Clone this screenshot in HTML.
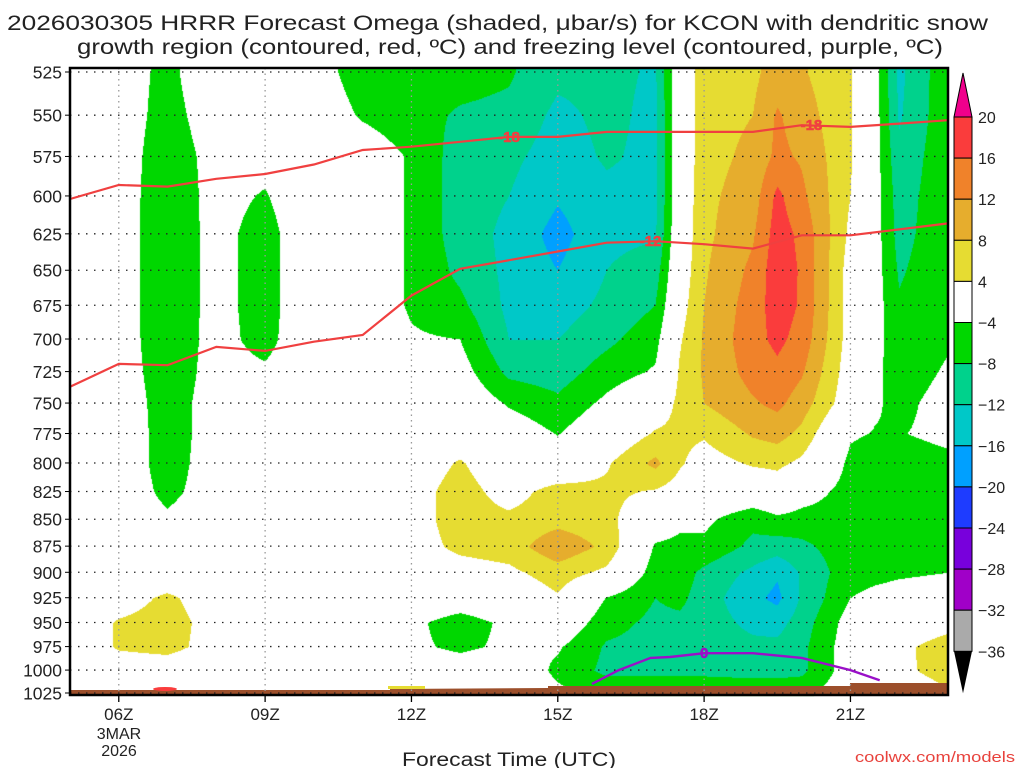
<!DOCTYPE html>
<html><head><meta charset="utf-8"><style>
html,body{margin:0;padding:0;background:#fff;width:1024px;height:768px;overflow:hidden}
#wrap{position:relative;width:1024px;height:768px}
canvas,svg{position:absolute;left:0;top:0}
text{font-family:"Liberation Sans",sans-serif}
</style></head><body>
<div id="wrap">
<canvas id="cv" width="1024" height="768"></canvas>
<svg id="sv" width="1024" height="768"></svg>
</div>
<script>
// ---- data ----
const times = [5,6,7,8,9,10,11,12,13,14,15,16,17,17.5,18,19,19.5,20,21,21.5,22,23];
const levels = [525,550,575,600,625,650,675,700,725,750,775,800,825,850,875,900,925,950,975,1000,1025];
const c05 = [0,0,0,0,0,0,0,0,0,0,0,0,0,0,0,0,0,0,0,0,0];
const c06 = [-1.2,-1.2,-1.2,-1.1,-1.1,-1.1,-1.1,-1.1,-1,-0.5,0,0,0,0,0,0,1.5,4.5,4.5,1,0];
const c07 = [-5.5,-6,-7,-7.6,-7.9,-7.9,-7.9,-7.6,-7,-6.5,-6.5,-6.5,-5.5,-3,-1,0,5,6,5.5,1,0];
const c08 = [0.5,-1,-2,-2,-2,-2,-2,-2,-2,-1.5,-1.5,-1,-1,0,0,0,1,2,2,0,0];
const c09 = [0,0,-2,-4.5,-6.5,-6.5,-6.5,-6,-3,0,0,0,0,0,0,0,0,0,0,0,0];
const c10 = [-2,-1,0.5,1.5,1.5,1.5,1.5,1.5,0.5,0,0,0,0,0,0,0,0,0,0,0,0];
const c11 = [-6,-4.5,-1,-1,-1,-1,-1,-1,0,0,0,0,0.5,0.5,0.5,0,0,0,0,0,0];
const c12 = [-7,-6.5,-4.5,-4.5,-4.5,-4.5,-4.5,-3.5,-2,0,0,1,2,2,2,1,0,-3,-3,0,0];
const c13 = [-6.5,-8.5,-10,-10,-10,-9,-7,-4,-2,0,1,4.5,6,6,5,2,-1,-6,-5,-1,0];
const c14 = [-7.5,-9,-11,-12,-13,-13,-13,-12,-9,-4.5,-1,0,2,5,6,3,0,-3,-3,0,0];
const c15 = [-11,-13,-14,-15.5,-17.5,-16,-14,-12,-10,-7,-4.2,-1,6,6.5,11,6,3.5,0,-3.5,-5,-3];
const c16 = [-11,-11,-11.5,-13,-13,-12,-11,-9,-6,-3,0,3.5,5,5.5,7,3,-4.2,-6.5,-8.5,-9,-5];
const c17 = [-12.5,-13,-13,-13,-12.5,-10,-8,-5.5,-3.5,1,4.5,9,3.5,-1,-4.5,-6,-8,-9,-9.5,-9,-5];
const c175 = [0,0,0,0,0.5,1,2,3.5,4.5,5,5,4.5,2,-3,-5,-6,-7,-9,-10,-9,-5];
const c18 = [6.5,6.5,6.5,7,7,7.5,8,8.5,8.5,8,4.5,2,0.5,-3,-5,-9,-10,-10,-10,-9,-5];
const c19 = [7,8,9,10,11.5,13,14,14.5,13.5,11.5,8.5,4.5,0,-7,-9,-13,-15,-13,-11,-9.5,-5];
const c195 = [10,12.5,13,17,18,18.5,18,17,15,13,9.5,5,1,-5,-10,-15.5,-17,-13.5,-11,-9.5,-5];
const c20 = [8.5,10,11.5,13,15,15.5,15.5,14.5,12.5,10,7,3,-2,-5.5,-9,-11.5,-11.5,-10,-9,-9,-5];
const c21 = [4.5,4.5,4.5,4,3,2,2,2,1.5,1,-3.5,-5,-5.5,-5.5,-5.5,-5.5,-4,-2,-1.5,-1.5,-1];
const c215 = [-2,-2,-2,-2,-2,-2,-2,-2.5,-3,-3.5,-4.2,-6,-6.5,-7,-6.5,-5,-3,-1,0,0,0];
const c22 = [-13,-12.5,-11,-10,-9.5,-8.5,-7.5,-6.5,-6,-5,-4.2,-6,-7,-7,-6,-4.5,-2.5,-1,2.5,2.5,0];
const c23 = [-5,-5,-5,-5,-5,-5,-5,-4.5,-3.5,-2.5,-3,-5,-5.5,-5,-4.5,-4,-2,1.5,7,6.5,3];
const columns = [c05,c06,c07,c08,c09,c10,c11,c12,c13,c14,c15,c16,c17,c175,c18,c19,c195,c20,c21,c215,c22,c23];

const isoHours = [5,6,7,8,9,10,11,12,13,14,15,16,17,18,19,20,21,22,23];
const iso18 = [602,593,594,589,586,580,571,569,566,563,563,560,560,560,560,556,557,555,553];
const iso12 = [737,719,720,706,709,702,697,668,649,643,637,631,630,632,635,626,626,622,618];
const frzHours = [15.7,16.25,16.9,17.3,18,19,20,21,21.6];
const frzP = [1015,1000,987,986,982,982,987,1000,1011];

const cbLabels = ["20","16","12","8","4","-4","-8","-12","-16","-20","-24","-28","-32","-36"];
const xTickHours = [6,9,12,15,18,21];
const xTickLabels = ["06Z","09Z","12Z","15Z","18Z","21Z"];

// ---- axes ----
const X0=70, X1=948, T0=5, T1=23;
const YT=72, YB=693, PT=525, PB=1025;
const LR = Math.log(PB/PT);
function xOf(t){return X0+(t-T0)/(T1-T0)*(X1-X0);}
function yOf(p){return YB-Math.log(PB/p)/LR*(YB-YT);}
function tOf(x){return T0+(x-X0)/(X1-X0)*(T1-T0);}
function pOf(y){return PB*Math.exp(-(YB-y)/(YB-YT)*LR);}

const bins=[[20,"#f0008c"],[16,"#fa3c3c"],[12,"#f0822a"],[8,"#e6ad2d"],[4,"#e6dc32"],[-4,"#ffffff"],[-8,"#00d700"],[-12,"#00d28c"],[-16,"#00c8c8"],[-20,"#00a0ff"],[-24,"#1e3cff"],[-28,"#7800dc"],[-32,"#a000c8"],[-36,"#aaaaaa"]];
function hex(c){return [parseInt(c.substr(1,2),16),parseInt(c.substr(3,2),16),parseInt(c.substr(5,2),16)];}
const binRGB=bins.map(b=>hex(b[1]));
function colorFor(v){for(let i=0;i<bins.length;i++){if(v>=bins[i][0])return binRGB[i];}return [0,0,0];}

// ---- shading ----
const cv=document.getElementById('cv');const ctx=cv.getContext('2d');
const img=ctx.createImageData(X1-X0, 696-68);
for(let py=68;py<696;py++){
  let p=pOf(py); if(p<PT)p=PT; if(p>PB)p=PB;
  let j=0; while(j<levels.length-2 && p>levels[j+1]) j++;
  const fy=(p-levels[j])/(levels[j+1]-levels[j]);
  for(let px=X0;px<X1;px++){
    let t=tOf(px+0.5); if(t<T0)t=T0; if(t>T1)t=T1;
    let i=0; while(i<times.length-2 && t>times[i+1]) i++;
    const fx=(t-times[i])/(times[i+1]-times[i]);
    const a=columns[i][j], b=columns[i+1][j], c=columns[i][j+1], d=columns[i+1][j+1];
    const v=(a*(1-fx)+b*fx)*(1-fy)+(c*(1-fx)+d*fx)*fy;
    const rgb=colorFor(v);
    const k=((py-68)*(X1-X0)+(px-X0))*4;
    img.data[k]=rgb[0];img.data[k+1]=rgb[1];img.data[k+2]=rgb[2];img.data[k+3]=255;
  }
}
ctx.putImageData(img,X0,68);

// ---- overlay ----
const NS="http://www.w3.org/2000/svg";
const sv=document.getElementById('sv');
function el(tag,attrs,parent){const e=document.createElementNS(NS,tag);for(const k in attrs)e.setAttribute(k,attrs[k]);(parent||sv).appendChild(e);return e;}
function txt(s,attrs){const e=el('text',attrs);e.textContent=s;return e;}

// ground
const ground=el('polygon',{points:"70,690 390,690 390,689 548,688 548,686 850,686 850,683 948,683 948,695 70,695",fill:"#9c4f2b"});


const gr=el('ellipse',{cx:165,cy:689,rx:12,ry:2,fill:"#fa3c3c"});


const gy=el('rect',{x:388,y:686,width:37,height:3,fill:"#e6dc32"});



// grid
levels.forEach(p=>{
  const g=el('line',{x1:X0,x2:X1,y1:yOf(p),y2:yOf(p),stroke:"#222","stroke-width":1.3,"stroke-dasharray":"1.5 6.5"});
  
  
  const tk=el('line',{x1:X0-5,x2:X0,y1:yOf(p),y2:yOf(p),stroke:"#000","stroke-width":1});
  
  
  const lb=txt(String(p),{x:62,y:yOf(p)+6.5,"font-size":17.5,"text-anchor":"end",fill:"#222"});
  
  
});
xTickHours.forEach((h,i)=>{
  const g=el('line',{x1:xOf(h),x2:xOf(h),y1:68,y2:695,stroke:"#999","stroke-width":1.3,"stroke-dasharray":"1.5 4"});
  
  
  const tk=el('line',{x1:xOf(h),x2:xOf(h),y1:695,y2:702,stroke:"#000","stroke-width":1.3});
  
  
  const lb=txt(xTickLabels[i],{x:xOf(h),y:720,"font-size":17,"text-anchor":"middle",fill:"#222"});
  
  
});
const d1=txt("3MAR",{x:119,y:739,"font-size":16,"text-anchor":"middle",fill:"#222"});


const d2=txt("2026",{x:119,y:756,"font-size":16,"text-anchor":"middle",fill:"#222"});



// isotherms
function pathFrom(hs,ps){return hs.map((h,i)=>(i?'L':'M')+xOf(h).toFixed(1)+','+yOf(ps[i]).toFixed(1)).join(' ');}
const l18=el('path',{d:pathFrom(isoHours,iso18),fill:"none",stroke:"#f04040","stroke-width":2.2});


const l12=el('path',{d:pathFrom(isoHours,iso12),fill:"none",stroke:"#f04040","stroke-width":2.2});


const lf=el('path',{d:pathFrom(frzHours,frzP),fill:"none",stroke:"#9a10c8","stroke-width":2.4});


[[14,563,"-18","#f04040"],[20.2,556,"-18","#f04040"],[16.9,630,"-12","#f04040"],[18,982,"0","#9a10c8"]].forEach(a=>{
  const t=txt(a[2],{x:xOf(a[0]),y:yOf(a[1])+5,"font-size":15,"font-weight":"bold","text-anchor":"middle",fill:a[3],stroke:a[3],"stroke-width":0.6});
  
  
});

// frame
const fr=el('rect',{x:X0,y:68,width:X1-X0,height:627,fill:"none",stroke:"#000","stroke-width":2.5});



// colorbar
const cbx=954,cbw=18,cbTop=117,cbStep=41.1;
const tri=el('polygon',{points:`${cbx},${cbTop} ${cbx+cbw},${cbTop} ${cbx+cbw/2},${cbTop-44}`,fill:bins[0][1],stroke:"#000","stroke-width":1});


for(let i=1;i<bins.length;i++){
  const r=el('rect',{x:cbx,y:cbTop+(i-1)*cbStep,width:cbw,height:cbStep,fill:bins[i][1],stroke:"#000","stroke-width":1});
  
  
}
const yEnd=cbTop+(bins.length-1)*cbStep;
const tri2=el('polygon',{points:`${cbx},${yEnd} ${cbx+cbw},${yEnd} ${cbx+cbw/2},${yEnd+42}`,fill:"#000"});


cbLabels.forEach((s,i)=>{
  const t=txt(s.replace('-','\u2212'),{x:978,y:cbTop+i*cbStep+6,"font-size":16,fill:"#222"});
  
  
});

// titles
const t1=txt("2026030305 HRRR Forecast Omega (shaded, \u03bcbar/s) for KCON with dendritic snow",{x:7,y:30,"font-size":21,fill:"#222",textLength:981,lengthAdjust:"spacingAndGlyphs"});


const t2=txt("growth region (contoured, red, \u00baC) and freezing level (contoured, purple, \u00baC)",{x:77,y:54,"font-size":21,fill:"#222",textLength:866,lengthAdjust:"spacingAndGlyphs"});


const xt=txt("Forecast Time (UTC)",{x:402,y:766,"font-size":19,fill:"#222",textLength:214,lengthAdjust:"spacingAndGlyphs"});


const cr=txt("coolwx.com/models",{x:855,y:762,"font-size":15,fill:"#e8423c",textLength:160,lengthAdjust:"spacingAndGlyphs"});


</script>
</body></html>
